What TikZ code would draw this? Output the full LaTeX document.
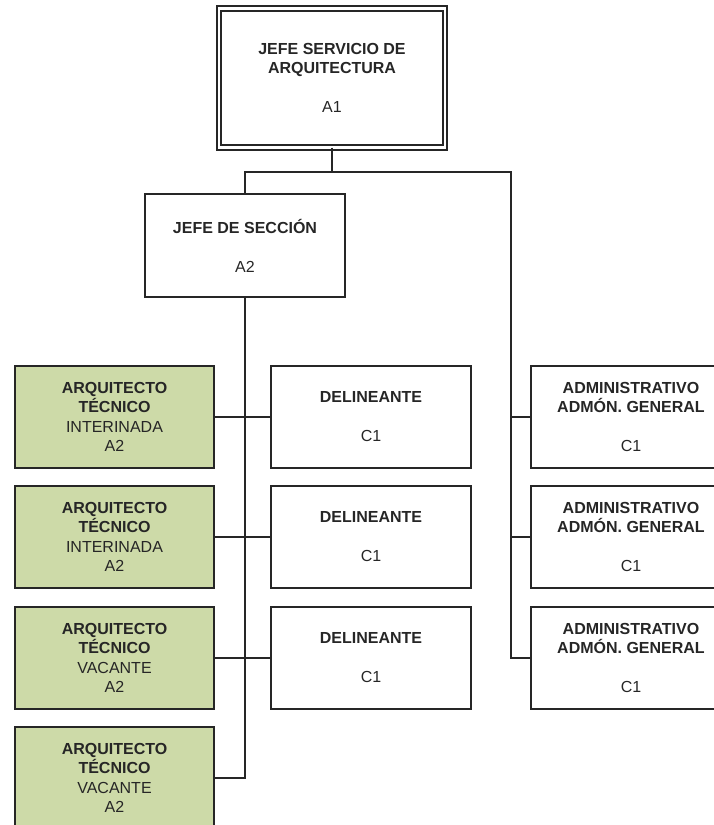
\documentclass[tikz,border=0pt]{standalone}
\usepackage{fontspec}
\setmainfont{Liberation Sans}
\usetikzlibrary{calc}
\definecolor{staffgreen}{RGB}{205,218,168}
\definecolor{inkgray}{RGB}{38,38,38}
\tikzset{
%Define standard box for a post
post/.style={draw=inkgray, line width=1.8pt, align=center, text=inkgray,
  minimum width=200pt, minimum height=102pt, inner sep=0pt, outer sep=0pt,
  font=\fontsize{16}{19.5}\selectfont},
%Green boxes for the technical posts, double frame for the head
tech post/.style={post, fill=staffgreen, minimum width=199pt},
head post/.style={post, double, double distance=2.6pt, line width=1.8pt,
  minimum width=226pt, minimum height=139pt},
%Define style for the connectors
link/.style={draw=inkgray, line width=1.8pt},
}

\begin{document}
\begin{tikzpicture}[x=1pt, y=1pt]
\useasboundingbox (0,0) rectangle (713,-825);

\node[head post] (jefeserv) at (332,-78)
  {\textbf{JEFE SERVICIO DE}\\\textbf{ARQUITECTURA}\\[19.5pt]A1};
\node[post, minimum height=103pt] (jefesec) at (245,-245.5)
  {\textbf{JEFE DE SECCIÓN}\\[19.5pt]A2};

% left column: technical architects
\foreach \i/\y/\st in {1/417/INTERINADA, 2/537/INTERINADA, 3/658/VACANTE, 4/778/VACANTE}
  \node[tech post] (arq\i) at (114.5,-\y)
    {\textbf{ARQUITECTO}\\\textbf{TÉCNICO}\\\st\\A2};

% middle and right columns
\foreach \i/\y in {1/417, 2/537, 3/658} {
  \node[post] (del\i) at (371,-\y) {\textbf{DELINEANTE}\\[19.5pt]C1};
  \node[post] (adm\i) at (631,-\y)
    {\textbf{ADMINISTRATIVO}\\\textbf{ADMÓN. GENERAL}\\[19.5pt]C1};
}

\path coordinate (lbus) at (245,-172) coordinate (rbus) at (511,-172);
\draw[link] (jefeserv.south) -- (jefeserv.south |- lbus);
\draw[link] (jefesec.north) -- (lbus) -- (rbus) -- (rbus |- adm3.west) -- (adm3.west);
\foreach \i in {1,2}
  \draw[link] (rbus |- adm\i.west) -- (adm\i.west);

\draw[link] (jefesec.south) -- (jefesec.south |- arq4.east) -- (arq4.east);
\foreach \i in {1,2,3}
  \draw[link] (arq\i.east) -- (del\i.west);
\end{tikzpicture}
\end{document}
